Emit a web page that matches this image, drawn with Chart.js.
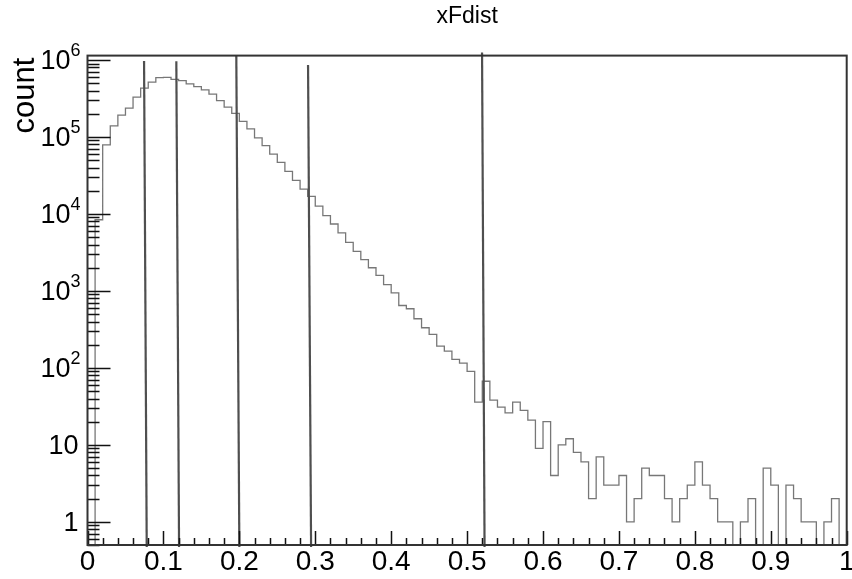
<!DOCTYPE html>
<html>
<head>
<meta charset="utf-8">
<title>xFdist</title>
<script src="https://cdn.jsdelivr.net/npm/chart.js@4.4.1/dist/chart.umd.min.js"></script>
<style>
  html, body { margin: 0; padding: 0; background: #fff; }
  #wrap { width: 852px; height: 579px; }
</style>
</head>
<body>
<div id="wrap"><canvas id="xfChart" width="852" height="579"></canvas></div>
<script>
// histogram binning (100 bins over 0..1)
const xMin = 0;
const xMax = 1;
const nBins = 100;

// bin contents
const counts = [
  0, 8400, 79000, 139000, 192000, 237000, 330000, 430000, 515000, 590000,
  595000, 560000, 540000, 490000, 450000, 410000, 360000, 297000, 244000, 202000,
  159000, 127000, 97000, 77000, 60000, 46700, 35700, 27300, 21000, 16900,
  12600, 9500, 7400, 5660, 4280, 3270, 2550, 2000, 1590, 1210,
  945, 646, 586, 435, 332, 272, 192, 165, 129, 115,
  90, 36, 67, 38, 31, 26, 36, 28, 21, 9,
  20, 4, 10, 12, 8, 6, 2, 7, 3, 3,
  4, 1, 2, 5, 4, 4, 2, 1, 2, 3,
  6, 3, 2, 1, 1, 0, 1, 2, 0, 5,
  3, 0, 3, 2, 1, 1, 0, 1, 2, 0
];

// vertical cut lines (slightly slanted in the original)
const cutBottomX = [0.078, 0.1206, 0.2000, 0.2945, 0.5230];
const cutTopX = [0.0745, 0.1170, 0.1960, 0.2905, 0.5197];
const cutTopY = [9.7e5, 9.6e5, 1.14e6, 8.6e5, 1.25e6];
const cutBottomY = 0.47;

const xTickValues = [0, 0.1, 0.2, 0.3, 0.4, 0.5, 0.6, 0.7, 0.8, 0.9, 1];
const yDecades = [0, 1, 2, 3, 4, 5, 6];
const yMin = 0.5;
const yMax = 1.14e6;

const fontFamily = "'Liberation Sans', Arial, Helvetica, sans-serif";
Chart.defaults.font.family = fontFamily;

// step outline: low edge of every bin, then close at the upper end
const binW = (xMax - xMin) / nBins;
const histPoints = counts.map((c, i) => ({ x: xMin + i * binW, y: c > 0 ? c : yMin }));
histPoints.push({ x: xMax, y: yMin });

const cutSets = cutBottomX.map((xb, i) => ({
  data: [{ x: xb, y: cutBottomY }, { x: cutTopX[i], y: cutTopY[i] }],
  borderColor: '#4f4f4f',
  borderWidth: 2.2,
  pointRadius: 0,
  clip: false,
  order: 0
}));

const rootFrame = {
  id: 'rootFrame',
  afterDraw(chart) {
    const { ctx, chartArea: a, scales: { x, y } } = chart;
    ctx.save();

    // ticks, drawn inwards like ROOT
    ctx.strokeStyle = '#111';
    ctx.lineWidth = 1.5;
    ctx.beginPath();
    for (let k = 0; k <= 50; k++) {
      const px = Math.round(x.getPixelForValue(k * 0.02)) + 0.5;
      const len = k % 5 === 0 ? 14 : 7;
      ctx.moveTo(px, a.bottom);
      ctx.lineTo(px, a.bottom - len);
    }
    for (let e = -1; e <= 6; e++) {
      for (let m = 1; m <= 9; m++) {
        const v = m * Math.pow(10, e);
        if (v < yMin || v > yMax) continue;
        const py = Math.round(y.getPixelForValue(v)) + 0.5;
        const len = m === 1 ? 23 : 12;
        ctx.moveTo(a.left, py);
        ctx.lineTo(a.left + len, py);
      }
    }
    ctx.stroke();

    // frame
    ctx.strokeStyle = '#333';
    ctx.lineWidth = 2;
    ctx.strokeRect(a.left, a.top, a.right - a.left, a.bottom - a.top);

    // y labels with raised exponents
    ctx.fillStyle = '#000';
    ctx.textBaseline = 'alphabetic';
    ctx.textAlign = 'right';
    const right = a.left - 8;
    yDecades.forEach(e => {
      const py = y.getPixelForValue(Math.pow(10, e));
      ctx.font = '27px ' + fontFamily;
      if (e < 2) {
        ctx.fillText(e === 0 ? '1' : '10', right - 1, py + 9.5);
      } else {
        ctx.font = '18px ' + fontFamily;
        const sup = String(e);
        const w = ctx.measureText(sup).width;
        ctx.fillText(sup, right + 1, py - 4);
        ctx.font = '27px ' + fontFamily;
        ctx.fillText('10', right + 1 - w, py + 9.5);
      }
    });

    // y axis title, end-aligned to the top of the axis
    ctx.translate(34, a.top + 2);
    ctx.rotate(-Math.PI / 2);
    ctx.font = '31px ' + fontFamily;
    ctx.textAlign = 'right';
    ctx.fillText('count', 0, 0);
    ctx.restore();
  }
};

new Chart(document.getElementById('xfChart'), {
  type: 'line',
  data: {
    datasets: [
      ...cutSets,
      {
        data: histPoints,
        stepped: 'before',
        borderColor: '#777777',
        borderWidth: 1.3,
        pointRadius: 0,
        order: 1
      }
    ]
  },
  options: {
    responsive: false,
    animation: false,
    devicePixelRatio: 1,
    layout: {
      autoPadding: false,
      padding: { left: 87.5, right: 5.3, top: 0, bottom: 0 }
    },
    plugins: {
      legend: { display: false },
      tooltip: { enabled: false },
      title: {
        display: true,
        text: 'xFdist',
        fullSize: false,
        color: '#000',
        font: { size: 23, weight: 'normal', lineHeight: 1.2 },
        padding: { top: 3, bottom: 25 }
      }
    },
    scales: {
      x: {
        type: 'linear',
        min: xMin,
        max: xMax,
        afterBuildTicks: s => { s.ticks = xTickValues.map(v => ({ value: v })); },
        // the last label may hang over the edge, as in the original
        afterFit: s => { s.paddingLeft = 0; s.paddingRight = 0; },
        grid: { display: false, drawTicks: false },
        border: { display: false },
        ticks: {
          color: '#000',
          padding: 3,
          maxRotation: 0,
          autoSkip: false,
          font: { size: 28, lineHeight: 1 },
          callback: v => String(Math.round(v * 10) / 10)
        }
      },
      y: {
        type: 'logarithmic',
        min: yMin,
        max: yMax,
        display: false
      }
    }
  },
  plugins: [rootFrame]
});
</script>
</body>
</html>
